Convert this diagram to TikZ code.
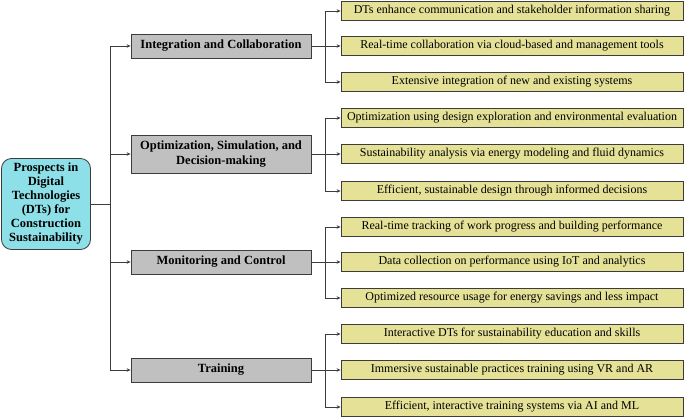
\documentclass[tikz,border=0pt]{standalone}
\usepackage{fontspec}
\setmainfont{Liberation Serif}
\newfontfamily\dtfont{Liberation Serif}
\usetikzlibrary{arrows.meta}

\definecolor{rootcyan}{RGB}{142,224,232}
\definecolor{catgray}{RGB}{192,192,192}
\definecolor{itemkhaki}{RGB}{229,226,152}
\definecolor{linegray}{RGB}{60,60,60}

\tikzset{
  rootbox/.style={draw=linegray, line width=0.8pt, fill=rootcyan, rounded corners=10pt,
    minimum width=89pt, minimum height=91pt, align=center, inner sep=2pt,
    font=\dtfont\fontsize{12.5}{14}\selectfont\bfseries},
  catbox/.style={draw=linegray, line width=0.8pt, fill=catgray,
    minimum width=180pt, minimum height=24pt, align=center,
    font=\dtfont\fontsize{12.5}{14.5}\selectfont\bfseries},
  itembox/.style={draw=linegray, line width=0.8pt, fill=itemkhaki,
    minimum width=342pt, minimum height=19pt, align=center, inner sep=1pt,
    font=\dtfont\fontsize{12}{13}\selectfont},
  link/.style={draw=linegray, line width=0.7pt},
  arr/.style={link, -{Stealth[length=4pt,width=3.5pt]}}
}

\begin{document}
\begin{tikzpicture}[x=1pt,y=-1pt]
  \useasboundingbox (0,0) rectangle (685,418);

  % root
  \node[rootbox] (root) at (46,204) {Prospects in\\Digital\\Technologies\\(DTs) for\\Construction\\Sustainability};
  \coordinate (sp) at (110,204);
  \draw[link] (root.east) -- (sp);

  % categories
  \node[catbox] (cat1) at (221,46) {Integration and Collaboration};
  \node[catbox, minimum height=38pt] (cat2) at (221,154) {Optimization, Simulation, and\\Decision-making};
  \node[catbox] (cat3) at (221,262) {Monitoring and Control};
  \node[catbox] (cat4) at (221,370) {Training};

  \foreach \c in {1,2,3,4} {
    \draw[arr] (sp) |- (cat\c.west);
  }

  % items
  \node[itembox] (it11) at (512,11) {DTs enhance communication and stakeholder information sharing};
  \node[itembox] (it12) at (512,46) {Real-time collaboration via cloud-based and management tools};
  \node[itembox] (it13) at (512,82) {Extensive integration of new and existing systems};

  \node[itembox] (it21) at (512,118) {Optimization using design exploration and environmental evaluation};
  \node[itembox] (it22) at (512,154) {Sustainability analysis via energy modeling and fluid dynamics};
  \node[itembox] (it23) at (512,191) {Efficient, sustainable design through informed decisions};

  \node[itembox] (it31) at (512,227) {Real-time tracking of work progress and building performance};
  \node[itembox] (it32) at (512,262) {Data collection on performance using IoT and analytics};
  \node[itembox] (it33) at (512,298) {Optimized resource usage for energy savings and less impact};

  \node[itembox] (it41) at (512,334) {Interactive DTs for sustainability education and skills};
  \node[itembox] (it42) at (512,370) {Immersive sustainable practices training using VR and AR};
  \node[itembox] (it43) at (512,407) {Efficient, interactive training systems via AI and ML};

  \foreach \c in {1,2,3,4} {
    \coordinate (br\c) at (cat\c.east -| 325,0);
    \draw[link] (cat\c.east) -- (br\c);
    \foreach \i in {1,2,3} {
      \draw[arr] (br\c) |- (it\c\i.west);
    }
  }
\end{tikzpicture}
\end{document}
